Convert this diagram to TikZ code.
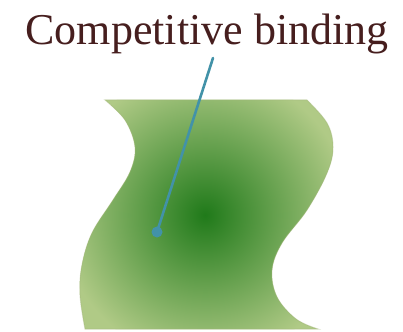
\documentclass[tikz,border=0pt]{standalone}
\usepackage{fontspec}
\setmainfont{Liberation Serif}
\usepackage{xcolor}
\usepackage{tikz}
\usetikzlibrary{arrows.meta,calc,positioning}
\definecolor{TitleBrown}{RGB}{70,30,30}
\definecolor{PocketDark}{RGB}{32,122,26}
\definecolor{PocketLight}{RGB}{176,202,134}
\definecolor{PocketRim}{RGB}{160,180,120}
\definecolor{PointerTeal}{RGB}{66,146,168}

\begin{document}
\begin{tikzpicture}[x=1pt, y=-1pt]
		\useasboundingbox (0,0) rectangle (403,331);
		
		\node[anchor=base, text=TitleBrown, font=\fontsize{44}{50}\selectfont, inner sep=0pt] (title) at (207,45) {Competitive binding};
		
		% wavy pocket
		\def\pocket{(105,100) -- plot[smooth, tension=0.6] coordinates {(307,100) (327,123) (333,147) (327,173) (307,210) (282,243) (272,270) (277,297) (296,319) (318,329)}
			-- plot[smooth, tension=0.6] coordinates {(85,329) (80,295) (82,265) (92,233) (113,200) (130,172) (135,147) (125,120) (105,100)} -- cycle}
		\fill[PocketLight] \pocket;
		\begin{scope}
			\clip \pocket;
			\shade[inner color=PocketDark, outer color=PocketLight] (205,215) circle (145);
		\end{scope}
		\draw[PocketRim, opacity=0.4, line width=1pt] \pocket;
		
		\coordinate (P) at (213,58);
		\coordinate (S) at (157,232);
		\draw[PointerTeal, line width=2.6pt, line cap=round] (P) -- (S);
		\fill[PointerTeal] (S) circle (5.5);
	\end{tikzpicture}
\end{document}
